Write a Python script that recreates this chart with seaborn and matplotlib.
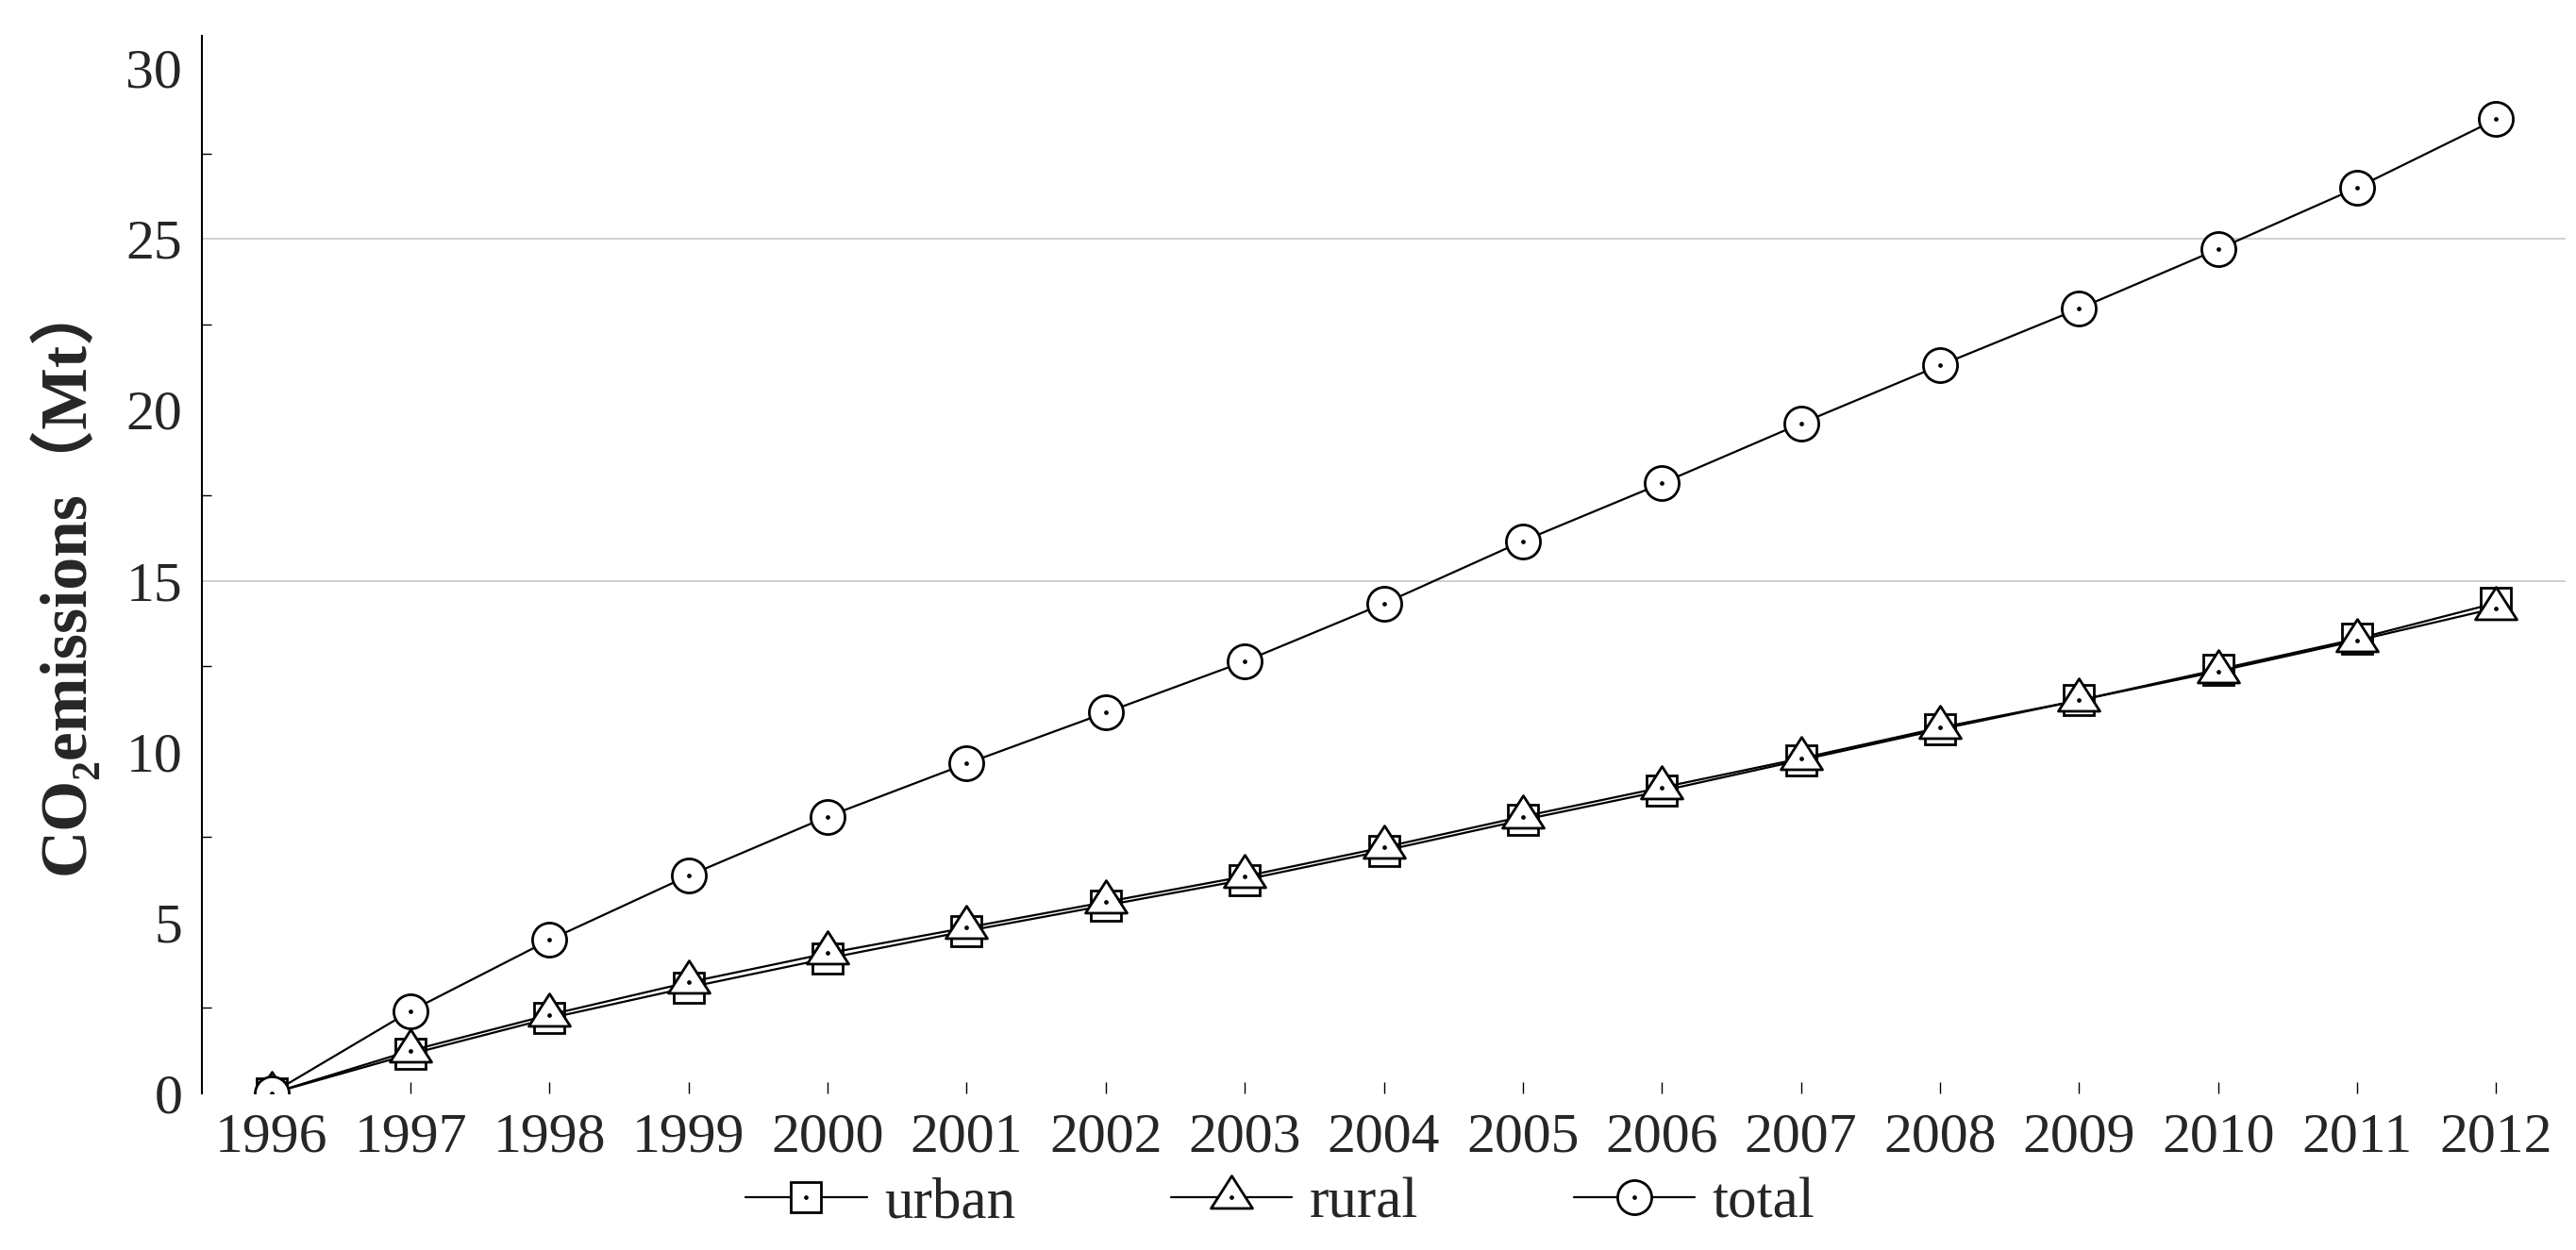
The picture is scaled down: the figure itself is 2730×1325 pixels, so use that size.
import matplotlib
matplotlib.use("Agg")
import matplotlib.pyplot as plt
import seaborn as sns
from matplotlib.path import Path
from matplotlib.ticker import FixedLocator

# values (Mt)
years = list(range(1996, 2013))
urban = [0, 1.15, 2.2, 3.1, 3.95, 4.75, 5.5, 6.25, 7.1, 8.0, 8.85, 9.75, 10.65, 11.5, 12.4, 13.3, 14.35]
rural = [0, 1.25, 2.3, 3.25, 4.1, 4.85, 5.6, 6.35, 7.2, 8.1, 8.95, 9.8, 10.7, 11.5, 12.35, 13.25, 14.2]
total = [0, 2.41, 4.49, 6.37, 8.1, 9.65, 11.14, 12.64, 14.33, 16.16, 17.85, 19.6, 21.3, 22.96, 24.7, 26.5, 28.5]
names = ["urban", "rural", "total"]
ylab = "CO₂emissions（Mt）"

sns.set_theme(style="white")
plt.rcParams["font.family"] = ["Liberation Serif", "Noto Sans CJK SC", "DejaVu Serif"]

fig = plt.figure(figsize=(27.3, 13.25), dpi=100)
ax = fig.add_axes([0.0784, 0.1253, 0.9176, 0.846])

# wide triangle, centred on its centroid
tri = Path([(-0.96, -0.5), (0.96, -0.5), (0, 1), (-0.96, -0.5)],
           [Path.MOVETO, Path.LINETO, Path.LINETO, Path.CLOSEPOLY])
marks = {"urban": ("s", 23), "rural": (tri, 33), "total": ("o", 26)}

handles = []
for name, vals in zip(names, [urban, rural, total]):
    m, ms = marks[name]
    sns.lineplot(x=years, y=vals, ax=ax, color="black", linewidth=1.6,
                 marker=m, markersize=ms, markerfacecolor="white",
                 markeredgecolor="black", markeredgewidth=2.0, label=name)
    line = ax.lines[-1]
    dot, = ax.plot(years, vals, ls="none", marker="o", ms=2.4, color="black")
    handles.append((line, dot))

if ax.get_legend() is not None:
    ax.get_legend().remove()

for g in [15, 25]:
    ax.axhline(g, color="#c8c8c8", lw=1.2, zorder=0)

ax.set_xlim(1995.5, 2012.5)
ax.set_ylim(0, 30.94)
ax.set_xticks(years)
ax.set_xticklabels([str(y) for y in years])
ax.set_yticks(range(0, 31, 5))
ax.yaxis.set_minor_locator(FixedLocator([2.5, 7.5, 12.5, 17.5, 22.5, 27.5]))
ax.tick_params(axis="x", direction="in", length=9, width=1, color="black",
               labelsize=43, pad=15, bottom=True)
ax.tick_params(axis="y", which="major", direction="in", length=0,
               labelsize=43, pad=15, left=True)
ax.tick_params(axis="y", which="minor", direction="in", length=7, width=1,
               color="black", left=True)

for s in ["top", "right", "bottom"]:
    ax.spines[s].set_visible(False)
ax.spines["left"].set_color("black")
ax.spines["left"].set_linewidth(1.5)

ax.set_xlabel("")
ax.set_ylabel(ylab, fontsize=50, fontweight="bold")
ax.yaxis.set_label_coords(-0.044, 0.49)

fig.legend(handles, names, loc="center", bbox_to_anchor=(0.497, 0.037),
           ncol=3, frameon=False, fontsize=44, handlelength=2.1,
           columnspacing=2.7, handletextpad=0.3)

fig.savefig("out.png", dpi=100)
